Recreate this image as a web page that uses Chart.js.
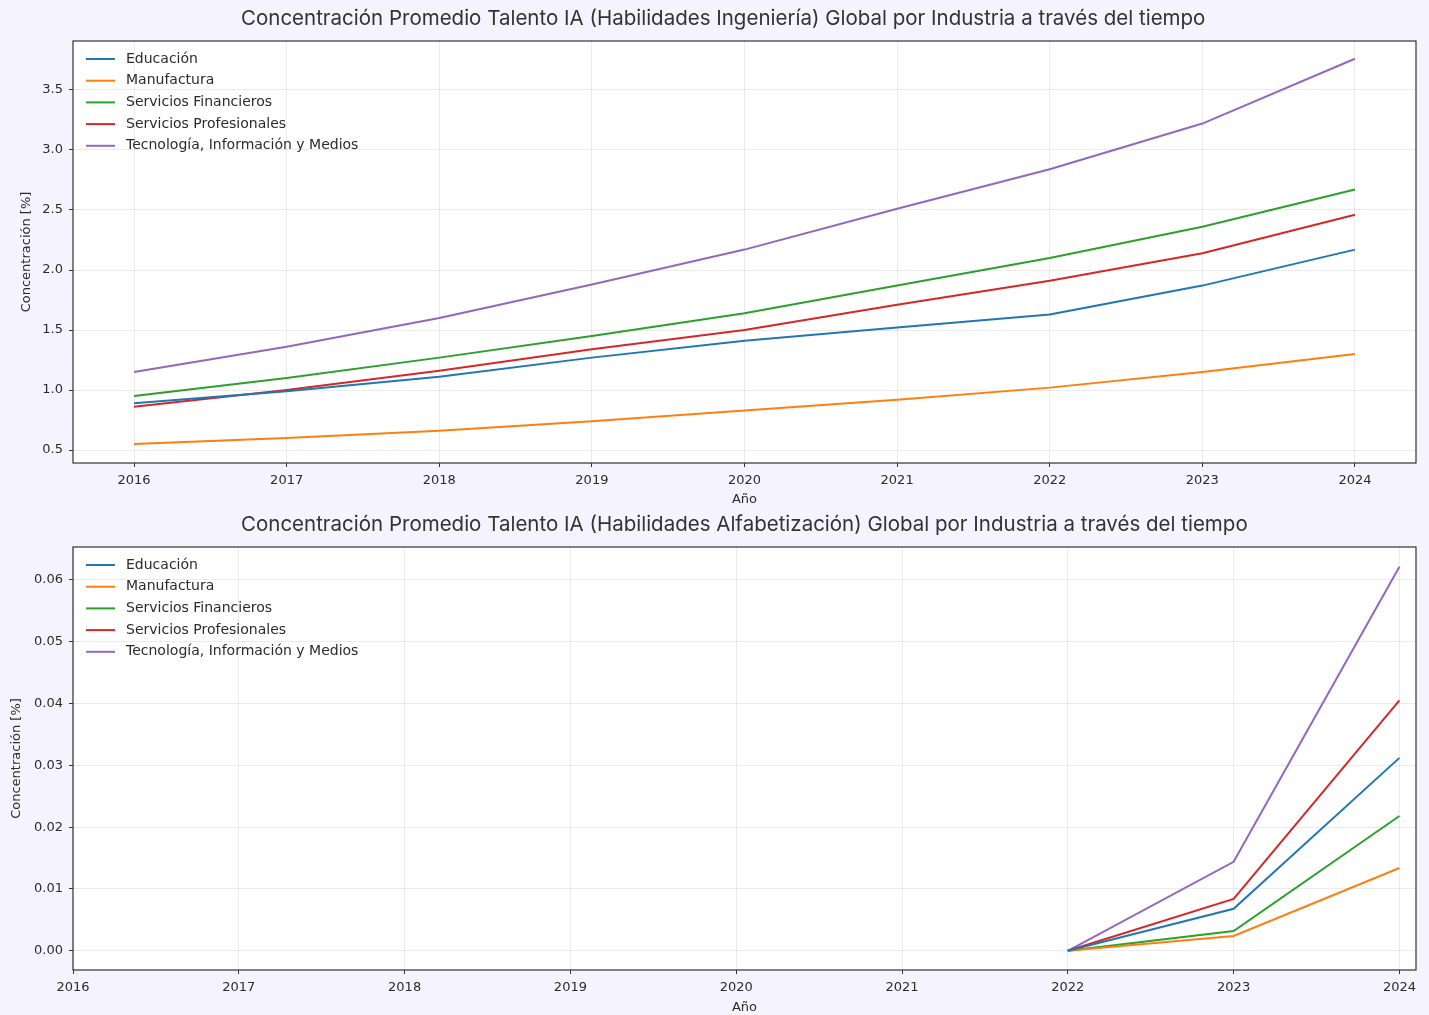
<!DOCTYPE html>
<html>
<head>
<meta charset="utf-8">
<script src="https://cdn.jsdelivr.net/npm/chart.js@4.4.1/dist/chart.umd.min.js"></script>
<style>
  html, body { margin: 0; padding: 0; background: #f5f3fd; }
  #wrap { position: relative; width: 1429px; height: 1015px; }
  canvas { position: absolute; left: 0; }
</style>
</head>
<body>
<div id="wrap">
  <canvas id="ingChart" width="1429" height="507" style="top:0"></canvas>
  <canvas id="alfaChart" width="1429" height="508" style="top:507px"></canvas>
</div>
<script>
// --- data ---
const industries = [
  "Educación",
  "Manufactura",
  "Servicios Financieros",
  "Servicios Profesionales",
  "Tecnología, Información y Medios",
];
const colors = ["#1f77b4", "#ff7f0e", "#2ca02c", "#d62728", "#9467bd"];

const years = [2016, 2017, 2018, 2019, 2020, 2021, 2022, 2023, 2024];
const ingEducacion = [0.89, 0.99, 1.11, 1.27, 1.41, 1.52, 1.63, 1.87, 2.17];
const ingManufactura = [0.55, 0.60, 0.66, 0.74, 0.83, 0.92, 1.02, 1.15, 1.30];
const ingFinancieros = [0.95, 1.10, 1.27, 1.45, 1.64, 1.87, 2.10, 2.36, 2.67];
const ingProfesionales = [0.86, 1.00, 1.16, 1.34, 1.50, 1.71, 1.91, 2.14, 2.46];
const ingTecnologia = [1.15, 1.36, 1.60, 1.88, 2.17, 2.51, 2.84, 3.22, 3.76];

const alfaYears = [2022, 2023, 2024];
const alfaEducacion = [0, 0.0068, 0.0312];
const alfaManufactura = [0, 0.0024, 0.0134];
const alfaFinancieros = [0, 0.0032, 0.0218];
const alfaProfesionales = [0, 0.0084, 0.0405];
const alfaTecnologia = [0, 0.0144, 0.0621];

const ingYTicks = [0.5, 1.0, 1.5, 2.0, 2.5, 3.0, 3.5];
const alfaYTicks = [0, 0.01, 0.02, 0.03, 0.04, 0.05, 0.06];

const TICK_FONT = { family: "DejaVu Sans", size: 13 };
const TEXT_COLOR = "#2b2b2b";

// frame around the plot area (matplotlib style spines)
const framePlugin = {
  id: "frame",
  afterDatasetsDraw(chart) {
    const { ctx, chartArea: a } = chart;
    ctx.save();
    ctx.strokeStyle = "#333333";
    ctx.lineWidth = 1.2;
    ctx.strokeRect(a.left, a.top, a.right - a.left, a.bottom - a.top);
    ctx.restore();
  },
};

// white plot background
const bgPlugin = {
  id: "plotBg",
  beforeDraw(chart) {
    const { ctx, chartArea: a } = chart;
    ctx.save();
    ctx.fillStyle = "#ffffff";
    ctx.fillRect(a.left, a.top, a.right - a.left, a.bottom - a.top);
    ctx.restore();
  },
};

// legend drawn inside the upper-left corner, no box
const innerLegendPlugin = {
  id: "innerLegend",
  afterDatasetsDraw(chart) {
    const { ctx, chartArea: a } = chart;
    ctx.save();
    ctx.font = "14px 'DejaVu Sans'";
    ctx.textBaseline = "middle";
    ctx.textAlign = "left";
    chart.data.datasets.forEach((ds, i) => {
      const y = a.top + 18 + i * 21.7;
      ctx.strokeStyle = ds.borderColor;
      ctx.lineWidth = 2;
      ctx.beginPath();
      ctx.moveTo(a.left + 13, y);
      ctx.lineTo(a.left + 42, y);
      ctx.stroke();
      ctx.fillStyle = TEXT_COLOR;
      ctx.fillText(ds.label, a.left + 53, y);
    });
    ctx.restore();
  },
};

// titles start at the same left x in the reference
const titlePlugin = {
  id: "plotTitle",
  afterDraw(chart, args, opts) {
    const { ctx } = chart;
    ctx.save();
    ctx.font = "20.5px Inter";
    ctx.fillStyle = "#333333";
    ctx.textAlign = "left";
    ctx.textBaseline = "middle";
    ctx.fillText(opts.text, 241, opts.y);
    ctx.restore();
  },
};

function makeDatasets(xs, series) {
  return series.map((vals, i) => ({
    label: industries[i],
    data: xs.map((x, j) => ({ x: x, y: vals[j] })),
    borderColor: colors[i],
    backgroundColor: colors[i],
    borderWidth: 2,
    pointRadius: 0,
    tension: 0,
  }));
}

function makeChart(id, cfg) {
  return new Chart(document.getElementById(id), {
    type: "line",
    data: { datasets: makeDatasets(cfg.xs, cfg.series) },
    options: {
      responsive: false,
      animation: false,
      layout: { padding: { top: cfg.top, right: 13, left: 0, bottom: 0 } },
      plugins: {
        legend: { display: false },
        tooltip: { enabled: false },
        plotTitle: { text: cfg.title, y: cfg.titleY },
      },
      scales: {
        x: {
          type: "linear",
          min: cfg.xMin,
          max: cfg.xMax,
          afterBuildTicks: (scale) => {
            scale.ticks = years.map((v) => ({ value: v }));
          },
          afterFit: (scale) => {
            scale.height = cfg.xHeight;
          },
          ticks: {
            font: TICK_FONT,
            color: TEXT_COLOR,
            padding: 6,
            maxRotation: 0,
            autoSkip: false,
            callback: (v) => String(v),
          },
          grid: {
            color: "rgba(0,0,0,0.08)",
            tickColor: "#333333",
            tickLength: 4,
          },
          border: { display: false },
          title: {
            display: true,
            text: "Año",
            font: TICK_FONT,
            color: TEXT_COLOR,
            padding: { top: 0, bottom: 0 },
          },
        },
        y: {
          min: cfg.yMin,
          max: cfg.yMax,
          afterBuildTicks: (scale) => {
            scale.ticks = cfg.yTicks.map((v) => ({ value: v }));
          },
          afterFit: (scale) => {
            scale.width = 73;
          },
          ticks: {
            font: TICK_FONT,
            color: TEXT_COLOR,
            padding: 6,
            callback: (v) => v.toFixed(cfg.decimals),
          },
          grid: {
            color: "rgba(0,0,0,0.08)",
            tickColor: "#333333",
            tickLength: 4,
          },
          border: { display: false },
          title: {
            display: true,
            text: "Concentración [%]",
            font: TICK_FONT,
            color: TEXT_COLOR,
            padding: { top: cfg.yTitlePad, bottom: 0 },
          },
        },
      },
    },
    plugins: [bgPlugin, framePlugin, innerLegendPlugin, titlePlugin],
  });
}

makeChart("ingChart", {
  xs: years,
  series: [ingEducacion, ingManufactura, ingFinancieros, ingProfesionales, ingTecnologia],
  title: "Concentración Promedio Talento IA (Habilidades Ingeniería) Global por Industria a través del tiempo",
  titleY: 19,
  top: 41,
  xHeight: 44,
  xMin: 2015.6,
  xMax: 2024.4,
  yMin: 0.392,
  yMax: 3.908,
  yTicks: ingYTicks,
  decimals: 1,
  yTitlePad: 19,
});

makeChart("alfaChart", {
  xs: alfaYears,
  series: [alfaEducacion, alfaManufactura, alfaFinancieros, alfaProfesionales, alfaTecnologia],
  title: "Concentración Promedio Talento IA (Habilidades Alfabetización) Global por Industria a través del tiempo",
  titleY: 18,
  top: 40,
  xHeight: 45,
  xMin: 2016,
  xMax: 2024.1,
  yMin: -0.0031,
  yMax: 0.0653,
  yTicks: alfaYTicks,
  decimals: 2,
  yTitlePad: 9,
});
</script>
</body>
</html>
